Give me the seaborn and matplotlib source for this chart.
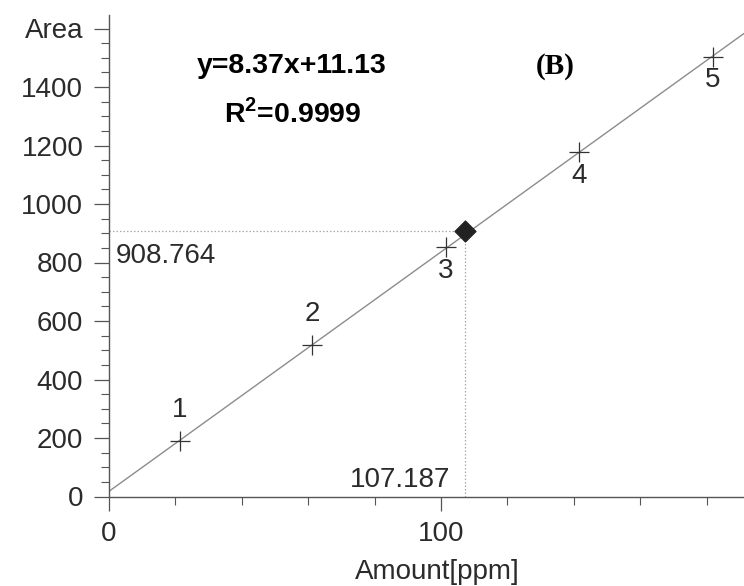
import numpy as np
import pandas as pd
import matplotlib
matplotlib.use("Agg")
import matplotlib.pyplot as plt
import seaborn as sns
from matplotlib.ticker import MultipleLocator, FixedLocator, FixedFormatter

# ---------------- data ----------------
std_labels = ["1", "2", "3", "4", "5"]
amount_ppm = [21.4, 61.1, 101.5, 141.6, 181.9]
area = [190, 518, 853, 1178, 1503]
sample_amount = [107.187]
sample_area = [908.764]
sample_x_text = "107.187"
sample_y_text = "908.764"
equation_text = "y=8.37x+11.13"
r2_text = r"R$^{\mathbf{2}}$=0.9999"
panel_tag = "(B)"
x_label = "Amount[ppm]"
y_ticks = [0, 200, 400, 600, 800, 1000, 1200, 1400, 1600]
y_tick_labels = ["0", "200", "400", "600", "800", "1000", "1200", "1400", "Area"]
x_ticks = [0, 100]
x_tick_labels = ["0", "100"]

# ---------------- style ----------------
sns.set_theme(style="ticks")
plt.rcParams['font.family'] = ['Liberation Sans', 'DejaVu Sans']
plt.rcParams['mathtext.fontset'] = 'custom'
plt.rcParams['mathtext.rm'] = 'Liberation Sans'
plt.rcParams['mathtext.bf'] = 'Liberation Sans:bold'
ink = "#2b2b2b"
axis_c = "#555555"

W, H = 744, 586
fig = plt.figure(figsize=(W / 100, H / 100), dpi=100)
fig.patch.set_facecolor("white")
px0, px1 = 109, 744      # axis pixel extents (x)
py0, py1 = 496.5, 15     # axis pixel extents (y)
ax = fig.add_axes([px0 / W, 1 - py0 / H, (px1 - px0) / W, (py0 - py1) / H])
ax.set_facecolor("white")
xmax = (px1 - px0) / 3.32
ymax = (py0 - py1) / 0.2925
ax.set_xlim(0, xmax)
ax.set_ylim(0, ymax)

df = pd.DataFrame({"Amount": amount_ppm, "Area": area, "Std": std_labels})
slope, intercept = np.polyfit(df["Amount"], df["Area"], 1)
fit = pd.DataFrame({"Amount": [0.0, xmax]})
fit["Area"] = slope * fit["Amount"] + intercept

# calibration line
sns.lineplot(data=fit, x="Amount", y="Area", ax=ax, color="#8c8c8c",
             linewidth=1.0, zorder=2)

# dotted guides to the sample point
ax.plot([0, sample_amount[0]], [sample_area[0], sample_area[0]],
        linestyle=(0, (1.2, 1.6)), color="#aaaaaa", linewidth=0.9, zorder=1)
ax.plot([sample_amount[0], sample_amount[0]], [0, sample_area[0]],
        linestyle=(0, (1.2, 1.6)), color="#aaaaaa", linewidth=0.9, zorder=1)

# standards
sns.scatterplot(data=df, x="Amount", y="Area", marker="+", s=210,
                color="#333333", linewidth=0.9, ax=ax, zorder=3, legend=False)
# sample
sns.scatterplot(x=sample_amount, y=sample_area, marker="D", s=115,
                color="#222222", edgecolor="#222222", ax=ax, zorder=4,
                legend=False)

# point labels
for i, (xv, yv, lab) in enumerate(zip(df["Amount"], df["Area"], df["Std"])):
    dy = 22 if i < 2 else -17
    ax.annotate(lab, (xv, yv), xytext=(0, dy), textcoords="offset points",
                ha="center", va="center", fontsize=20, color=ink)

# value labels
ax.text(2.0, 798, sample_y_text, ha="left", va="baseline", fontsize=20, color=ink)
ax.text(102.7, 32.5, sample_x_text, ha="right", va="baseline", fontsize=20, color=ink)

# equation texts
ax.text(55.1, 1448, equation_text, ha="center", va="baseline", fontsize=20.5,
        fontweight="bold", color="black")
ax.text(55.4, 1280, r2_text, ha="center", va="baseline", fontsize=20.5,
        fontweight="bold", color="black")
ax.text(134.3, 1444, panel_tag, ha="center", va="baseline", fontsize=21,
        fontweight="bold", color="black", family=["Liberation Serif"])

# axes styling
sns.despine(ax=ax, top=True, right=True)
for sp in ("left", "bottom"):
    ax.spines[sp].set_color(axis_c)
    ax.spines[sp].set_linewidth(1.0)

ax.yaxis.set_major_locator(FixedLocator(y_ticks))
ax.yaxis.set_major_formatter(FixedFormatter(y_tick_labels))
ax.yaxis.set_minor_locator(MultipleLocator(50))
ax.xaxis.set_major_locator(FixedLocator(x_ticks))
ax.xaxis.set_major_formatter(FixedFormatter(x_tick_labels))
ax.xaxis.set_minor_locator(MultipleLocator(20))

ax.tick_params(axis="y", which="major", length=10.5, width=0.9, color=axis_c,
               labelsize=20, labelcolor=ink, pad=8)
ax.tick_params(axis="y", which="minor", length=5.5, width=0.8, color=axis_c)
ax.tick_params(axis="x", which="major", length=10, width=0.9, color=axis_c,
               labelsize=20, labelcolor=ink, pad=7.5)
ax.tick_params(axis="x", which="minor", length=5.5, width=0.8, color=axis_c)

ax.set_ylabel("")
ax.set_xlabel(x_label, fontsize=20, color=ink)
ax.xaxis.set_label_coords((437 - px0) / (px1 - px0), -(559 - py0) / (py0 - py1))

fig.savefig("out.png", dpi=100, facecolor="white")
